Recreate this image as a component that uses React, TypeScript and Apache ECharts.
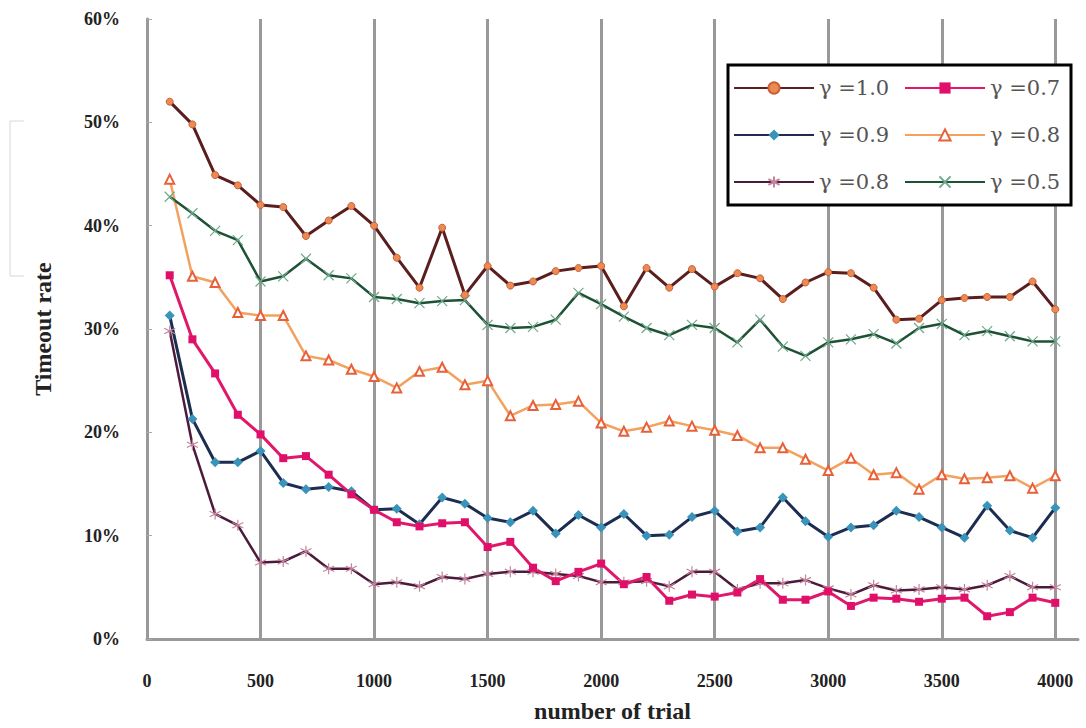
import React, { useEffect, useRef } from "react";
import * as echarts from "echarts";

const trials = [100, 200, 300, 400, 500, 600, 700, 800, 900, 1000, 1100, 1200, 1300, 1400, 1500, 1600, 1700, 1800, 1900, 2000, 2100, 2200, 2300, 2400, 2500, 2600, 2700, 2800, 2900, 3000, 3100, 3200, 3300, 3400, 3500, 3600, 3700, 3800, 3900, 4000];

const g10 = [52.0, 49.8, 44.9, 43.9, 42.0, 41.8, 39.0, 40.5, 41.9, 40.0, 36.9, 34.0, 39.8, 33.3, 36.1, 34.2, 34.6, 35.6, 35.9, 36.1, 32.2, 35.9, 34.0, 35.8, 34.1, 35.4, 34.9, 32.9, 34.5, 35.5, 35.4, 34.0, 30.9, 31.0, 32.8, 33.0, 33.1, 33.1, 34.6, 31.9];
const g07 = [35.2, 29.0, 25.7, 21.7, 19.8, 17.5, 17.7, 15.9, 14.0, 12.5, 11.3, 10.9, 11.2, 11.3, 8.9, 9.4, 6.9, 5.6, 6.5, 7.3, 5.3, 6.0, 3.7, 4.3, 4.1, 4.5, 5.8, 3.8, 3.8, 4.6, 3.2, 4.0, 3.9, 3.6, 3.9, 4.0, 2.2, 2.6, 4.0, 3.5];
const g09 = [31.3, 21.3, 17.1, 17.1, 18.2, 15.1, 14.5, 14.7, 14.3, 12.5, 12.6, 11.1, 13.7, 13.1, 11.7, 11.3, 12.4, 10.2, 12.0, 10.8, 12.1, 10.0, 10.1, 11.8, 12.4, 10.4, 10.8, 13.7, 11.4, 9.9, 10.8, 11.0, 12.4, 11.8, 10.8, 9.8, 12.9, 10.5, 9.8, 12.7];
const g08a = [44.5, 35.1, 34.5, 31.6, 31.3, 31.3, 27.4, 27.0, 26.1, 25.4, 24.3, 25.9, 26.3, 24.6, 25.0, 21.6, 22.6, 22.7, 23.0, 20.9, 20.1, 20.5, 21.1, 20.6, 20.2, 19.7, 18.5, 18.5, 17.4, 16.3, 17.5, 15.9, 16.1, 14.5, 15.9, 15.5, 15.6, 15.8, 14.6, 15.8];
const g08b = [29.8, 18.8, 12.1, 11.0, 7.4, 7.5, 8.5, 6.8, 6.8, 5.3, 5.5, 5.1, 6.0, 5.8, 6.3, 6.5, 6.5, 6.3, 6.1, 5.5, 5.5, 5.6, 5.1, 6.5, 6.5, 4.8, 5.4, 5.4, 5.7, 4.9, 4.3, 5.2, 4.7, 4.8, 5.0, 4.8, 5.2, 6.1, 5.0, 5.0];
const g05 = [42.8, 41.2, 39.5, 38.6, 34.6, 35.1, 36.8, 35.2, 34.9, 33.1, 32.9, 32.5, 32.7, 32.8, 30.4, 30.1, 30.2, 30.9, 33.5, 32.4, 31.2, 30.1, 29.4, 30.4, 30.1, 28.7, 30.9, 28.3, 27.4, 28.7, 29.0, 29.5, 28.6, 30.1, 30.5, 29.4, 29.8, 29.3, 28.8, 28.8];

const names = ["γ =1.0", "γ =0.7", "γ =0.9", "γ =0.8", "γ =0.8 ", "γ =0.5"];

const ASTERISK = "path://M5,0L5,10M0.7,2.5L9.3,7.5M0.7,7.5L9.3,2.5";
const XMARK = "path://M0,0L10,10M0,10L10,0";

function pairs(vals: number[]) {
  return trials.map((t, i) => [t, vals[i]]);
}

export default function App() {
  const ref = useRef<HTMLDivElement>(null);
  useEffect(() => {
    document.body.style.margin = "0";
    const chart = echarts.init(ref.current!, null, { renderer: "svg" });
    const axisFont = { fontFamily: "Liberation Serif", fontWeight: "bold" as const, color: "#222" };
    chart.setOption({
      animation: false,
      backgroundColor: "#fff",
      grid: { left: 147, right: 8, top: 19, bottom: 88, containLabel: false },
      xAxis: {
        type: "value",
        min: 0,
        max: 4100,
        interval: 500,
        name: "number of trial",
        nameLocation: "middle",
        nameGap: 60,
        nameTextStyle: { ...axisFont, fontSize: 24 },
        axisLine: { lineStyle: { color: "#999", width: 3 } },
        axisTick: { show: false },
        axisLabel: { ...axisFont, fontSize: 18, margin: 33, showMaxLabel: false, formatter: (v: number) => String(v) },
        splitLine: { show: true, showMinLine: false, showMaxLine: false, lineStyle: { color: "#999", width: 3 } },
      },
      yAxis: {
        type: "value",
        min: 0,
        max: 60,
        interval: 10,
        name: "Timeout rate",
        nameLocation: "middle",
        nameGap: 92,
        nameTextStyle: { ...axisFont, fontSize: 24 },
        axisLine: { show: true, lineStyle: { color: "#999", width: 3 } },
        axisTick: { show: true, inside: true, length: 5, lineStyle: { color: "#aaa" } },
        axisLabel: { ...axisFont, fontSize: 18, margin: 27, formatter: "{value}%" },
        splitLine: { show: false },
      },
      legend: {
        data: names,
        left: 728,
        top: 65,
        width: 335,
        orient: "horizontal",
        padding: [4, 5],
        itemGap: 9,
        itemWidth: 80,
        itemHeight: 14,
        selectedMode: false,
        backgroundColor: "#fff",
        borderColor: "#000",
        borderWidth: 3,
        formatter: (n: string) => n.trim(),
        textStyle: { fontFamily: "DejaVu Serif", fontSize: 21, color: "#555", width: 76, lineHeight: 38 },
      },
      graphic: [
        {
          type: "polyline",
          shape: { points: [[24, 121], [10, 121], [10, 276], [24, 276]] },
          style: { stroke: "#d8d8d8", lineWidth: 1, fill: "none" },
          silent: true,
        },
      ],
      series: [
        {
          name: names[3], type: "line", data: pairs(g08a),
          symbol: "emptyTriangle", symbolSize: 9,
          lineStyle: { color: "#f2a25e", width: 2.5 },
          itemStyle: { color: "#e8603a", borderWidth: 1.2 },
        },
        {
          name: names[5], type: "line", data: pairs(g05),
          symbol: XMARK, symbolSize: 10,
          lineStyle: { color: "#1e5234", width: 2.5 },
          itemStyle: { color: "transparent", borderColor: "#6fa88a", borderWidth: 1.2 },
        },
        {
          name: names[0], type: "line", data: pairs(g10),
          symbol: "circle", symbolSize: 7,
          lineStyle: { color: "#5a1e1e", width: 3 },
          itemStyle: { color: "#ec8a52", borderColor: "#c8603a", borderWidth: 1 },
        },
        {
          name: names[2], type: "line", data: pairs(g09),
          symbol: "diamond", symbolSize: 10,
          lineStyle: { color: "#1d2d52", width: 3 },
          itemStyle: { color: "#3a93b8" },
        },
        {
          name: names[4], type: "line", data: pairs(g08b),
          symbol: ASTERISK, symbolSize: 11,
          lineStyle: { color: "#4c1a3c", width: 2.5 },
          itemStyle: { color: "transparent", borderColor: "#c4849a", borderWidth: 1.2 },
        },
        {
          name: names[1], type: "line", data: pairs(g07),
          symbol: "rect", symbolSize: 8,
          lineStyle: { color: "#e0186a", width: 3 },
          itemStyle: { color: "#e0106a" },
        },
      ],
    });
    return () => chart.dispose();
  }, []);
  return <div ref={ref} style={{ width: 1086, height: 728 }} />;
}
